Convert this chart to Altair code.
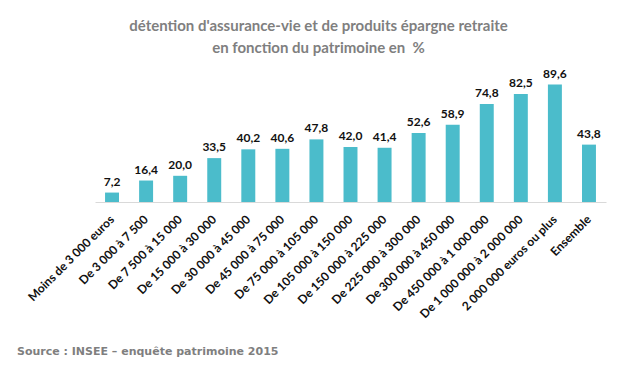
import altair as alt
import pandas as pd

categories = [
    "Moins de 3 000 euros", "De 3 000 à 7 500", "De 7 500 à 15 000",
    "De 15 000 à 30 000", "De 30 000 à 45 000", "De 45 000 à 75 000",
    "De 75 000 à 105 000", "De 105 000 à 150 000", "De 150 000 à 225 000",
    "De 225 000 à 300 000", "De 300 000 à 450 000", "De 450 000 à 1 000 000",
    "De 1 000 000 à 2 000 000", "2 000 000 euros ou plus", "Ensemble",
]
values = [7.2, 16.4, 20.0, 33.5, 40.2, 40.6, 47.8, 42.0, 41.4, 52.6, 58.9, 74.8, 82.5, 89.6, 43.8]
title_lines = ["détention d'assurance-vie et de produits épargne retraite",
               "en fonction du patrimoine en\u00a0 %"]
source_text = ["Source  : INSEE \u2013 enquête patrimoine 2015"]

df = pd.DataFrame({
    "cat": categories,
    "val": values,
    "lab": [f"{v:.1f}".replace(".", ",") for v in values],
})
src = pd.DataFrame({"t": source_text})

x = alt.X("cat:N", sort=categories, title=None,
          scale=alt.Scale(paddingInner=0.59, paddingOuter=0.295),
          axis=alt.Axis(labelAngle=-45, labelAlign="right", labelBaseline="middle",
                        ticks=False, labelPadding=15, labelFont="Lato",
                        labelFontWeight="bold", labelFontSize=12, labelColor="#111111",
                        domainColor="#d9d9d9", labelOverlap=False, labelLimit=300))
y = alt.Y("val:Q", scale=alt.Scale(domain=[0, 100]), axis=None)

bars = alt.Chart(df).mark_bar(color="#4BBCCB").encode(x=x, y=y)
labels = alt.Chart(df).mark_text(font="Lato", fontWeight="bold", fontSize=12,
                                 color="#111111", baseline="alphabetic", dy=-7).encode(
    x=alt.X("cat:N", sort=categories), y="val:Q", text="lab:N")
source = alt.Chart(src).mark_text(font="DejaVu Sans", fontWeight="bold", fontSize=11,
                                  color="#7f7f7f", align="left", baseline="middle").encode(
    x=alt.value(-78), y=alt.value(281), text="t:N")

chart = alt.layer(bars, labels, source).properties(
    width=511, height=131,
    autosize=alt.AutoSizeParams(type="none"),
    padding={"left": 87, "top": 63, "right": 20, "bottom": 160},
    title=alt.TitleParams(text=title_lines, font="Lato", fontSize=15, fontWeight="bold",
                          color="#7f7f7f", anchor="middle", frame="group", dx=-32,
                          offset=12, lineHeight=22),
).configure_view(stroke=None)

chart.save("out.html", embed_options={"renderer": "svg", "actions": False})
